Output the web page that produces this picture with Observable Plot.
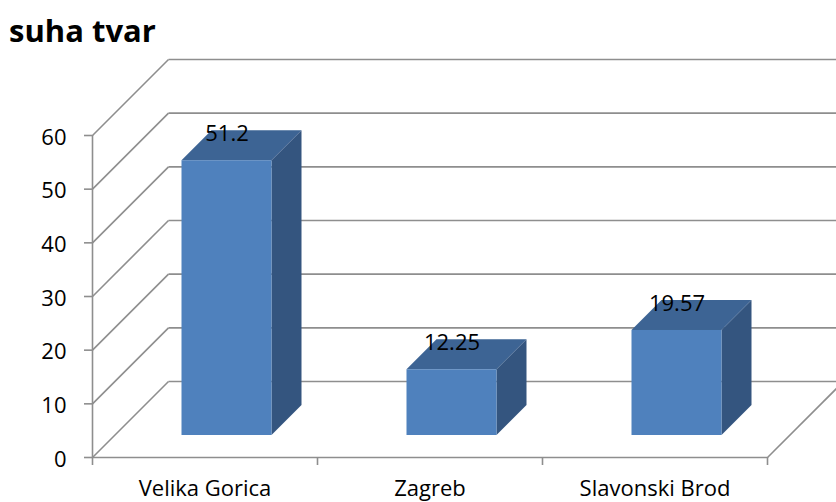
<!DOCTYPE html>
<html>
<head>
<meta charset="utf-8">
<script src="https://cdn.jsdelivr.net/npm/d3@7"></script>
<script src="https://cdn.jsdelivr.net/npm/@observablehq/plot@0.6"></script>
<style>
  html, body { margin: 0; padding: 0; background: #fff; }
  #title { height: 55px; position: relative; font-family: "Open Sans", sans-serif; font-weight: bold; font-size: 31px; color: #000; }
  #title span { position: absolute; left: 9px; top: 15px; line-height: 1; }
  #chart svg { display: block; }
</style>
</head>
<body>
<div id="title"><span>suha tvar</span></div>
<div id="chart"></div>
<script>
// ---- data ----
const categories = ["Velika Gorica", "Zagreb", "Slavonski Brod"];
const values = [51.2, 12.25, 19.57];
const valueLabels = ["51.2", "12.25", "19.57"];
const yTicks = [0, 10, 20, 30, 40, 50, 60];

// ---- layout constants ----
const W = 836, H = 447;
const mL = 92, mR = 69, mT = 80, mB = 45;
const pxX = (W - mL - mR) / categories.length; // px per category unit
const pxY = (H - mT - mB) / 60;                // px per value unit
const floorDepth = 76;       // px
const barFront = 22, barBack = 52; // px depth of bar faces
const halfW = 0.2;           // half bar width in category units
const grid = "#8e8e8e";
const font = "Open Sans, sans-serif";

const ox = d => d / pxX; // depth px -> x data offset
const oy = d => d / pxY; // depth px -> y data offset

const bars = categories.map((c, i) => ({c, i, v: values[i], label: valueLabels[i], cx: i + 0.5}));

const topFace = bars.flatMap(b => [barFront, barBack].map(d => ({
  c: b.c, y: b.v + oy(d), x1: b.cx - halfW + ox(d), x2: b.cx + halfW + ox(d)
})));
const sideFace = bars.flatMap(b => [barFront, barBack].map(d => ({
  c: b.c, x: b.cx + halfW + ox(d), y1: oy(d), y2: b.v + oy(d)
})));

const plot = Plot.plot({
  width: W, height: H,
  marginLeft: mL, marginRight: mR, marginTop: mT, marginBottom: mB,
  x: {type: "linear", domain: [0, categories.length], axis: null},
  y: {type: "linear", domain: [0, 60], axis: null},
  style: {fontFamily: font, overflow: "visible"},
  marks: [
    // left wall diagonals
    Plot.link(yTicks, {x1: 0, y1: d => d, x2: ox(floorDepth), y2: d => d + oy(floorDepth), stroke: grid, strokeWidth: 1.6}),
    // back wall gridlines
    Plot.link(yTicks, {x1: ox(floorDepth), y1: d => d + oy(floorDepth), x2: categories.length + ox(floorDepth), y2: d => d + oy(floorDepth), stroke: grid, strokeWidth: 1.6}),
    // floor right edge
    Plot.link([0], {x1: categories.length, y1: 0, x2: categories.length + ox(floorDepth), y2: oy(floorDepth), stroke: grid, strokeWidth: 1.6}),
    // front value axis
    Plot.ruleX([0], {y1: 0, y2: 60, stroke: grid, strokeWidth: 1.6}),
    Plot.ruleY(yTicks, {x1: -8 / pxX, x2: 0, stroke: grid, strokeWidth: 1.6}),
    // front category axis
    Plot.ruleY([0], {x1: 0, x2: categories.length, stroke: grid, strokeWidth: 1.6}),
    Plot.ruleX(d3.range(categories.length + 1), {y1: 0, y2: -8 / pxY, stroke: grid, strokeWidth: 1.6}),
    // tick labels
    Plot.text(yTicks, {x: 0, y: d => d, text: d => String(d), textAnchor: "end", dx: -26, dy: 2, fontSize: 22, fill: "#000"}),
    Plot.text(bars, {x: "cx", y: 0, text: "c", dy: 31, fontSize: 22, fill: "#000"}),
    // bars
    Plot.areaY(sideFace, {x: "x", y1: "y1", y2: "y2", z: "c", fill: "#34557f", curve: "linear"}),
    Plot.areaX(topFace, {y: "y", x1: "x1", x2: "x2", z: "c", fill: "#3d6494", curve: "linear"}),
    Plot.rect(bars, {x1: d => d.cx - halfW + ox(barFront), x2: d => d.cx + halfW + ox(barFront), y1: oy(barFront), y2: d => d.v + oy(barFront), fill: "#4f81bd"}),
    // value labels
    Plot.text(bars, {x: d => d.cx + ox(barFront), y: d => d.v + oy(barFront), text: "label", dy: -27, fontSize: 22, fill: "#000"})
  ]
});
document.getElementById("chart").appendChild(plot);
</script>
</body>
</html>
